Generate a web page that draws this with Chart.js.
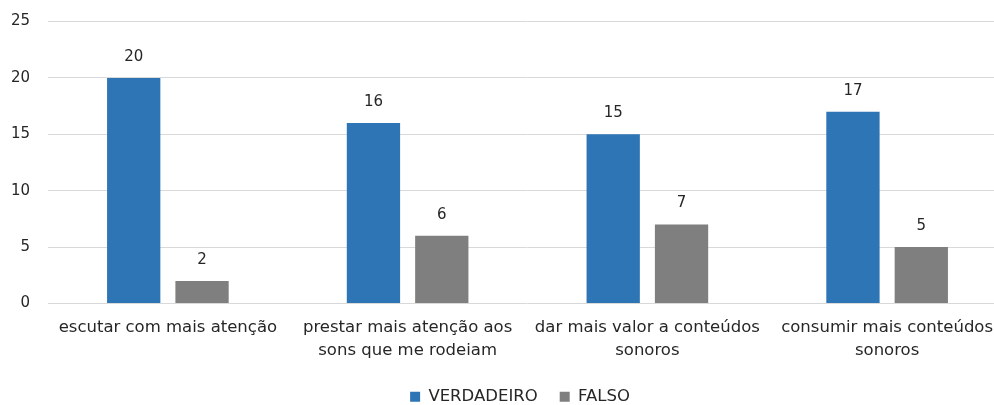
<!DOCTYPE html>
<html>
<head>
<meta charset="utf-8">
<script src="https://cdn.jsdelivr.net/npm/chart.js@4"></script>
<style>
  html, body { margin: 0; padding: 0; background: #fff; overflow: hidden; }
  #wrap { width: 1008px; height: 405px; }
</style>
</head>
<body>
<div id="wrap"><canvas id="grafico"></canvas></div>
<script>
// ── Data ──────────────────────────────────────
const categorias = [
  'escutar com mais atenção',
  ['prestar mais atenção aos', 'sons que me rodeiam'],
  ['dar mais valor a conteúdos', 'sonoros'],
  ['consumir mais conteúdos', 'sonoros']
];
const verdadeiro = [20, 16, 15, 17];
const falso      = [2, 6, 7, 5];
const yTicks     = [0, 5, 10, 15, 20, 25];

const FONT = "'DejaVu Sans', Verdana, sans-serif";
const TEXT = '#262626';

// ── Value labels above bars ───────────────────
const rotulos = {
  id: 'rotulos',
  afterDatasetsDraw(chart) {
    const ctx = chart.ctx;
    ctx.save();
    ctx.font = `15px ${FONT}`;
    ctx.fillStyle = TEXT;
    ctx.textAlign = 'center';
    ctx.textBaseline = 'middle';
    chart.data.datasets.forEach((ds, i) => {
      chart.getDatasetMeta(i).data.forEach((bar, j) => {
        ctx.fillText(ds.data[j], bar.x, bar.y - 21);
      });
    });
    ctx.restore();
  }
};

// ── Legend nudge (centred on the full chart, not the cropped canvas) ──
const legendShift = {
  id: 'legendShift',
  afterLayout(chart) {
    chart.legend.left += 11;
    chart.legend.right += 11;
  }
};

new Chart(document.getElementById('grafico'), {
  type: 'bar',
  data: {
    labels: categorias,
    datasets: [
      { label: 'VERDADEIRO', data: verdadeiro, backgroundColor: '#2E75B6' },
      { label: 'FALSO', data: falso, backgroundColor: '#7F7F7F' }
    ]
  },
  options: {
    responsive: true,
    maintainAspectRatio: false,
    animation: false,
    layout: { padding: { top: 21.5, left: 11, right: 1, bottom: -10 } },
    datasets: { bar: { categoryPercentage: 0.57, barPercentage: 0.78 } },
    plugins: {
      legend: {
        position: 'bottom',
        labels: {
          font: { family: FONT, size: 16.5 },
          color: TEXT,
          boxWidth: 10,
          boxHeight: 10,
          padding: 22
        }
      },
      tooltip: { enabled: false }
    },
    scales: {
      y: {
        min: 0,
        max: 25,
        afterBuildTicks: axis => { axis.ticks = yTicks.map(v => ({ value: v })); },
        afterFit: axis => {
          axis.width = 37;
          axis.paddingTop = 0;
          axis.paddingBottom = 0;
        },
        ticks: { font: { family: FONT, size: 15 }, color: TEXT, padding: 18 },
        grid: { color: '#D9D9D9', lineWidth: 1, drawTicks: false },
        border: { display: false }
      },
      x: {
        afterFit: axis => { axis.height = 63; },
        ticks: {
          font: { family: FONT, size: 16.5, lineHeight: 1.4 },
          color: TEXT, padding: 5, maxRotation: 0, autoSkip: false
        },
        grid: { display: false },
        border: { display: false }
      }
    }
  },
  plugins: [rotulos, legendShift]
});
</script>
</body>
</html>
